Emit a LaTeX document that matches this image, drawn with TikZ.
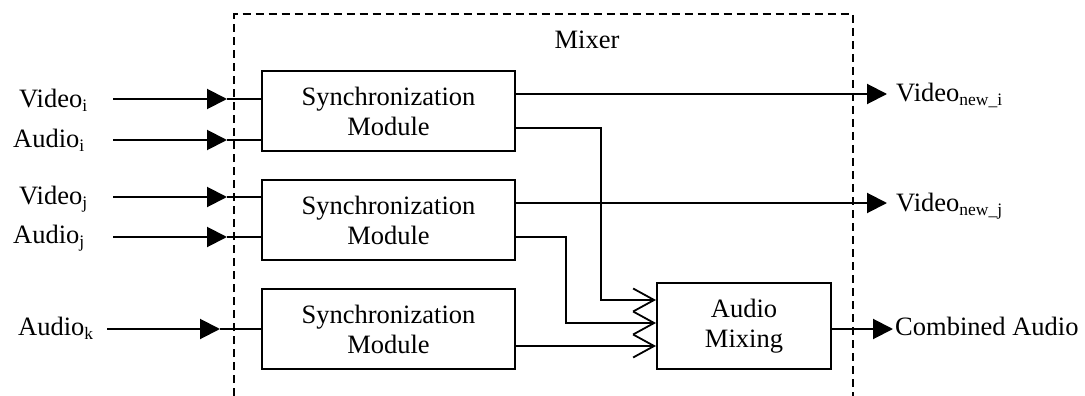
\documentclass[tikz,border=0pt]{standalone}
\usepackage{fontspec}
\setmainfont{Liberation Serif}
\usetikzlibrary{arrows.meta}
% lowered, smaller subscript text
\newcommand{\lowsub}[1]{\raisebox{-4pt}{\fontsize{17.5}{18}\selectfont #1}}

\begin{document}
\begin{tikzpicture}[x=1pt,y=-1pt,
  node font=\fontsize{26.5}{30}\selectfont,
  block/.style={draw, line width=2pt, minimum width=253pt, minimum height=80pt,
                align=center, inner sep=0pt},
  txt/.style={inner sep=0pt},
  wire/.style={line width=2pt},
  inarrow/.style={wire, -{Triangle[length=20pt,width=20pt]}},
  barb/.style={wire, -{Straight Barb[length=21pt,width=23pt,line width=1.8pt]}},
  frame/.style={line width=2pt, dash pattern=on 8pt off 5pt}]
\useasboundingbox (0,0) rectangle (1085,396);

% mixer boundary, open at the bottom
\draw[frame] (234,396) -- (234,14.5) -- (853,14.5) -- (853,396);
\node[txt, anchor=base] (mixerlabel) at (587,49) {Mixer};

% processing blocks
\node[block] (sync1) at (388.5,111) {Synchronization\\Module};
\node[block] (sync2) at (388.5,220) {Synchronization\\Module};
\node[block] (sync3) at (388.5,329) {Synchronization\\Module};
\node[block, minimum width=174pt, minimum height=86pt] (mix) at (744,326) {Audio\\Mixing};

% input labels
\node[txt, anchor=base west] (vi) at (19,107) {Video\lowsub{i}};
\node[txt, anchor=base west] (ai) at (13,147) {Audio\lowsub{i}};
\node[txt, anchor=base west] (vj) at (19,204) {Video\lowsub{j}};
\node[txt, anchor=base west] (aj) at (13,243) {Audio\lowsub{j}};
\node[txt, anchor=base west] (ak) at (18,335) {Audio\lowsub{k}};

% input line starts and arrow tips
\coordinate (vi-s) at (113,99);  \coordinate (vi-t) at (227,99);
\coordinate (ai-s) at (113,140); \coordinate (ai-t) at (227,140);
\coordinate (vj-s) at (113,197); \coordinate (vj-t) at (227,197);
\coordinate (aj-s) at (113,237); \coordinate (aj-t) at (227,237);
\coordinate (ak-s) at (107,329); \coordinate (ak-t) at (220,329);

\foreach \s/\b in {vi/sync1, ai/sync1, vj/sync2, aj/sync2, ak/sync3}{
  \draw[inarrow] (\s-s) -- (\s-t);
  \draw[wire] (\s-t) -- (\b.west |- \s-t);
}

% video outputs
\coordinate (vni) at (887,94);
\coordinate (vnj) at (887,203);
\draw[inarrow] ([yshift=17pt]sync1.east) -- (vni);
\draw[inarrow] ([yshift=17pt]sync2.east) -- (vnj);
\node[txt, anchor=base west] (vnilabel) at (896,102) {Video\lowsub{new\_i}};
\node[txt, anchor=base west] (vnjlabel) at (896,211) {Video\lowsub{new\_j}};

% audio paths into the mixer
\draw[barb] ([yshift=-17pt]sync1.east) -- (601,128) -- (601,300) -- (mix.west |- 0,300);
\draw[barb] ([yshift=-17pt]sync2.east) -- (566,237) -- (566,323) -- (mix.west |- 0,323);
\draw[barb] ([yshift=-17pt]sync3.east) -- (mix.west |- 0,346);

% combined output
\coordinate (co) at (893,329);
\draw[inarrow] ([yshift=-3pt]mix.east) -- (co);
\node[txt, anchor=base west] (colabel) at (895,335) {Combined Audio};
\end{tikzpicture}
\end{document}
